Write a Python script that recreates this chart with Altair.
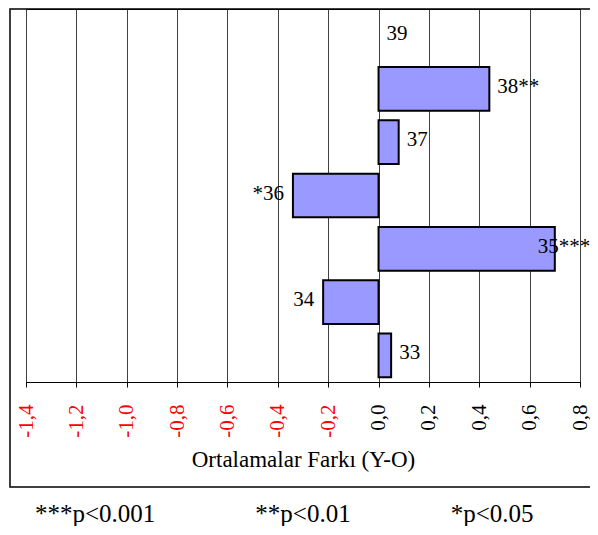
import altair as alt
import pandas as pd

categories = ["33", "34", "35", "36", "37", "38", "39"]
values = [0.05, -0.22, 0.70, -0.34, 0.08, 0.44, 0.0]
significance = ["", "", "***", "*", "", "**", ""]
tick_values = [-1.4, -1.2, -1.0, -0.8, -0.6, -0.4, -0.2, 0.0, 0.2, 0.4, 0.6, 0.8]
x_title = "Ortalamalar Farkı (Y-O)"
footnotes = ["***p<0.001", "**p<0.01", "*p<0.05"]

df = pd.DataFrame({"cat": categories, "value": values, "sig": significance})
df["label"] = [s + c if v < 0 else c + s for c, v, s in zip(categories, values, significance)]

FONT = "Liberation Serif"
order = categories[::-1]

x_scale = alt.Scale(domain=[-1.4, 0.8], nice=False, zero=False)
y_enc = alt.Y("cat:N", sort=order,
              scale=alt.Scale(paddingInner=0.18, paddingOuter=0.09), axis=None)

x_axis = alt.Axis(
    values=tick_values, title=x_title, grid=True, gridColor="#404040", gridWidth=1,
    tickColor="black", tickSize=5, domainColor="black", domainWidth=1,
    labelAngle=-90, labelPadding=17, labelFont=FONT, labelFontSize=21,
    labelExpr="(datum.value < 0 ? '-' : '') + replace(format(abs(datum.value), '.1f'), '.', ',')",
    labelColor=alt.condition("datum.value < 0", alt.value("red"), alt.value("black")),
    titleFont=FONT, titleFontSize=23, titleFontWeight="normal", titleColor="black",
    titlePadding=11,
)

base = alt.Chart(df)

bars = base.transform_filter("datum.value != 0").mark_bar(
    fill="#9999ff", stroke="black", strokeWidth=2
).encode(
    x=alt.X("value:Q", scale=x_scale, axis=x_axis),
    x2=alt.datum(0),
    y=y_enc,
)

text_kw = dict(baseline="middle", font=FONT, fontSize=21, color="black", dy=-2)
x_txt = alt.X("value:Q", scale=x_scale)

pos_labels = base.transform_filter("datum.value >= 0 && datum.value <= 0.6").mark_text(
    align="left", dx=8, **text_kw
).encode(x=x_txt, y=y_enc, text="label:N")

big_labels = base.transform_filter("datum.value > 0.6").mark_text(
    align="left", dx=-17, **text_kw
).encode(x=x_txt, y=y_enc, text="label:N")

neg_labels = base.transform_filter("datum.value < 0").mark_text(
    align="right", dx=-9, **text_kw
).encode(x=x_txt, y=y_enc, text="label:N")

border = alt.Chart(pd.DataFrame({"k": [0]})).mark_rect(
    fillOpacity=0, stroke="black", strokeWidth=1.5
).encode(x=alt.value(-16), x2=alt.value(620), y=alt.value(0), y2=alt.value(478))

nb = "\u00a0" * 16
footer = alt.Title(
    text=nb.join(footnotes), orient="bottom", anchor="start", frame="group",
    offset=14, dx=9, font=FONT, fontSize=25, fontWeight="normal", color="black",
)

chart = alt.layer(border, bars, pos_labels, big_labels, neg_labels).properties(
    width=554, height=373, title=footer,
    padding={"left": 18, "top": 1, "right": 10, "bottom": 144},
    autosize=alt.AutoSizeParams(type="none"),
).configure_view(stroke="black", strokeWidth=1)

chart.save("out.html", embed_options={"renderer": "svg", "actions": False})
